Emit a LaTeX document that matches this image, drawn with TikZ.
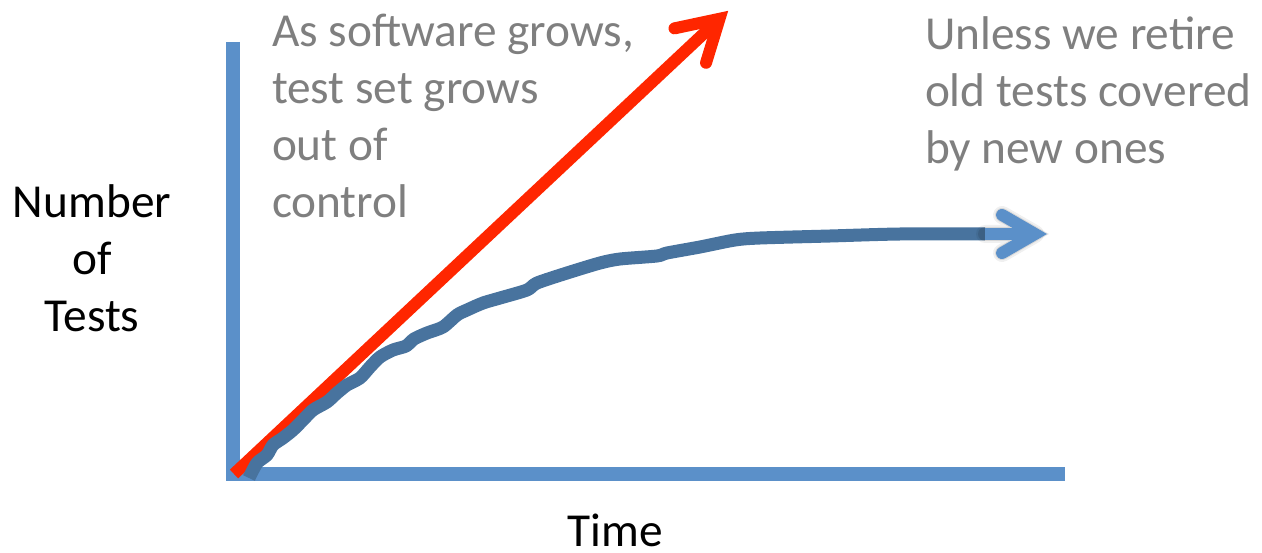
\documentclass[tikz,border=0pt]{standalone}
\usepackage{fontspec}
\setmainfont{Carlito}
\usetikzlibrary{calc}

\definecolor{axisblue}{RGB}{91,144,201}
\definecolor{curveblue}{RGB}{72,115,158}
\definecolor{growred}{RGB}{255,38,0}
\definecolor{notegray}{RGB}{127,127,127}

\begin{document}
\begin{tikzpicture}[x=1bp,y=-1bp,
  axisline/.style={draw=axisblue, line width=14bp, line cap=butt},
  redline/.style={draw=growred, line width=12bp},
  redhead/.style={draw=growred, line width=12bp, line cap=round, line join=miter},
  curveline/.style={draw=curveblue, line width=13bp, line cap=butt, line join=round},
  blueshaft/.style={draw=axisblue, line width=12bp, line cap=butt},
  bluehead/.style={draw=axisblue, line width=12bp, line cap=round, line join=miter},
  txt/.style={font=\fontsize{47.5}{57}\selectfont, inner sep=0pt, outer sep=0pt},
  note/.style={txt, text=notegray, anchor=base west},
  axislabel/.style={txt, text=black, anchor=base}]

\useasboundingbox (0,0) rectangle (1262,553);

% axes
\coordinate (ytop) at (233,42);
\coordinate (ybot) at (233,481);
\coordinate (xleft) at (226,474);
\coordinate (xright) at (1065,474);
\draw[axisline] (ytop) -- (ybot);
\draw[axisline] (xleft) -- (xright);

% uncontrolled growth: straight red arrow
\coordinate (redStart) at (234,474);
\coordinate (redV) at (719.5,18.8);
\coordinate (redArmA) at ($(redV)+(168:46)$);
\coordinate (redArmB) at ($(redV)+(107:46)$);
\draw[redline] (redStart) -- (redV);
\draw[redhead] (redArmA) -- (redV) -- (redArmB);

% growth with retirement: levelling curve
\coordinate (curveStart) at (249,478);
\coordinate (curveEnd) at (985,234);
\draw[curveline] plot[smooth, tension=0.45] coordinates {
  (249,478) (257,463) (267,455) (273,445) (283,438) (293,430) (303,420)
  (313,410) (327,402) (337,393) (347,385) (360,378) (370,367) (380,357)
  (393,350) (406,346) (414,339) (427,333) (443,327) (457,315) (467,310)
  (483,303) (500,298) (527,290) (537,283) (567,273) (600,263) (620,259)
  (657,256) (667,253) (700,247) (735,240) (760,238) (830,236) (900,234)
  (985,234)};

% arrow at the end of the curve, with a soft shadow
\coordinate (blueV) at (1035,234);
\coordinate (blueArmA) at ($(blueV)+(150:38)$);
\coordinate (blueArmB) at ($(blueV)+(210:38)$);
\begin{scope}[shift={(1,4)}]
  \draw[black, opacity=0.06, line width=18bp, line cap=round, line join=round]
    (curveEnd) -- (blueV) (blueArmA) -- (blueV) -- (blueArmB);
  \draw[black, opacity=0.10, line width=14bp, line cap=round, line join=miter]
    (curveEnd) -- (blueV) (blueArmA) -- (blueV) -- (blueArmB);
\end{scope}
\draw[blueshaft] (curveEnd) -- (blueV);
\draw[bluehead] (blueArmA) -- (blueV) -- (blueArmB);

% texts
\node[note] (noteA1) at (272,47) {As software grows,};
\node[note] (noteA2) at (272,104) {test set grows};
\node[note] (noteA3) at (272,161) {out of};
\node[note] (noteA4) at (272,218) {control};

\node[note] (noteB1) at (925,50) {Unless we retire};
\node[note] (noteB2) at (925,107) {old tests covered};
\node[note] (noteB3) at (925,164) {by new ones};

\node[axislabel] (yl1) at (92,218) {Number};
\node[axislabel] (yl2) at (92,275) {of};
\node[axislabel] (yl3) at (92,332) {Tests};
\node[axislabel] (xl) at (615,546) {Time};
\end{tikzpicture}
\end{document}
